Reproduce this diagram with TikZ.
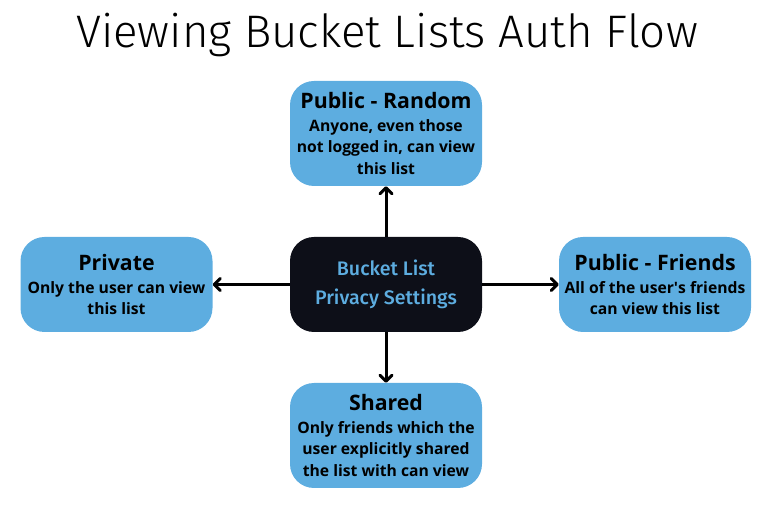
\documentclass[tikz,border=0pt]{standalone}
\usepackage{fontspec}
\setmainfont{Open Sans}
\newfontfamily\titlefont{Fira Sans Light}
\newfontfamily\medfont{Fira Sans Medium}
\usetikzlibrary{arrows.meta}
\definecolor{boxblue}{RGB}{93,173,224}
\definecolor{navy}{RGB}{13,15,24}
\tikzset{
  optbox/.style={fill=boxblue, rounded corners=24pt, minimum width=192pt, align=center, inner sep=0pt, text=black, font=\bfseries\fontsize{15.7}{21.5}\selectfont},
  centerbox/.style={fill=navy, rounded corners=24pt, minimum width=192pt, minimum height=95pt, align=center, inner sep=0pt, text=boxblue, font=\medfont\fontsize{19.6}{29}\selectfont},
  conn/.style={line width=3pt, -{Straight Barb[length=6pt,width=12pt,line cap=round,line join=round]}},
}
\newcommand{\hd}[1]{{\fontsize{21.3}{24}\selectfont #1}\\[1pt]}
\begin{document}
\begin{tikzpicture}[x=1pt,y=-1pt]
\useasboundingbox (0,0) rectangle (772,510);
\node (title) at (387,35) {\titlefont\fontsize{45.6}{50}\selectfont Viewing Bucket Lists Auth Flow};
\node[centerbox] (center) at (386,284.5) {Bucket List\\Privacy Settings};
\node[optbox, minimum height=105pt] (random) at (386,133.5) {\hd{Public - Random}Anyone, even those\\not logged in, can view\\this list};
\node[optbox, minimum height=95pt] (private) at (116.5,284.5) {\hd{Private}Only the user can view\\this list};
\node[optbox, minimum height=95pt] (friends) at (655,284.5) {\hd{Public - Friends}All of the user\textquotesingle s friends\\can view this list};
\node[optbox, minimum height=105pt] (shared) at (386,435.5) {\hd{Shared}Only friends which the\\user explicitly shared\\the list with can view};
\draw[conn] (center.north) -- (random.south);
\draw[conn] (center.south) -- (shared.north);
\draw[conn] (center.west) -- (private.east);
\draw[conn] (center.east) -- (friends.west);
\end{tikzpicture}
\end{document}
